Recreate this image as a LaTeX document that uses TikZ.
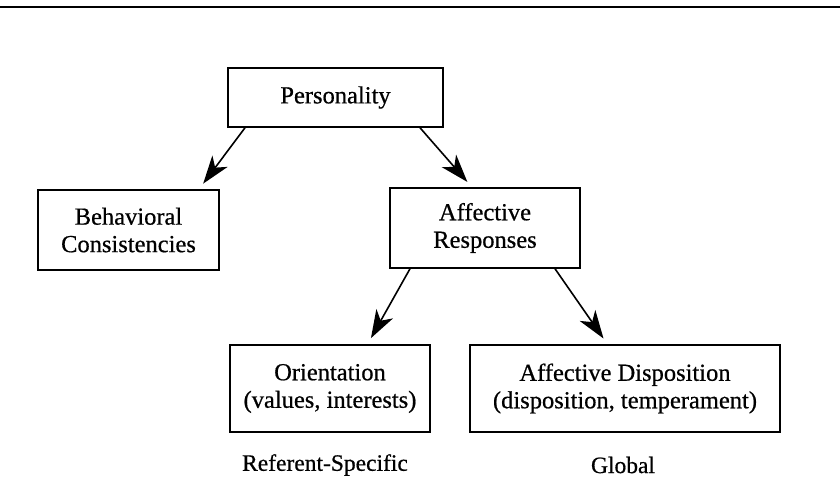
\documentclass[tikz,border=0pt]{standalone}
\usepackage{fontspec}
\setmainfont{Liberation Serif}
\newfontfamily\boxfont{Liberation Serif}[FakeBold=0.6]
\usetikzlibrary{arrows.meta}
\begin{document}
\begin{tikzpicture}[x=1pt,y=-1pt,
  box/.style={draw, line width=1.5pt, inner sep=0pt, align=center,
    font=\boxfont\fontsize{24.5}{27.5}\selectfont},
  lbl/.style={inner sep=0pt, font=\boxfont\fontsize{23.5}{27.5}\selectfont},
  arr/.style={line width=1.6pt, -{Stealth[length=28pt,width=19pt,inset=8pt]},
    shorten >=7pt}]
  \useasboundingbox (0,0) rectangle (840,492);
  % header rule
  \coordinate (ruleL) at (0,7);
  \coordinate (ruleR) at (840,7);
  \draw[line width=2pt] (ruleL) -- (ruleR);

  % boxes
  \node[box, minimum width=215pt, minimum height=59pt] (pers) at (335.5,97.5) {Personality};
  \node[box, minimum width=181pt, minimum height=80pt] (beh) at (128.5,230) {Behavioral\\Consistencies};
  \node[box, minimum width=190pt, minimum height=80pt] (aff) at (485,228) {Affective\\Responses};
  \node[box, minimum width=200pt, minimum height=87pt] (ori) at (330,388.5) {Orientation\\(values, interests)};
  \node[box, minimum width=310pt, minimum height=87pt] (disp) at (625,388.5) {Affective Disposition\\(disposition, temperament)};

  % captions
  \node[lbl] (ref) at (325,465) {Referent-Specific};
  \node[lbl] (glob) at (623,465) {Global};

  % connectors
  \draw[arr] ([xshift=-90.5pt]pers.south) -- ([xshift=70.5pt]beh.north);
  \draw[arr] ([xshift=84.5pt]pers.south) -- ([xshift=-13pt]aff.north);
  \draw[arr] ([xshift=-75pt]aff.south) -- ([xshift=37.5pt]ori.north);
  \draw[arr] ([xshift=70pt]aff.south) -- ([xshift=-17.5pt]disp.north);
\end{tikzpicture}
\end{document}
